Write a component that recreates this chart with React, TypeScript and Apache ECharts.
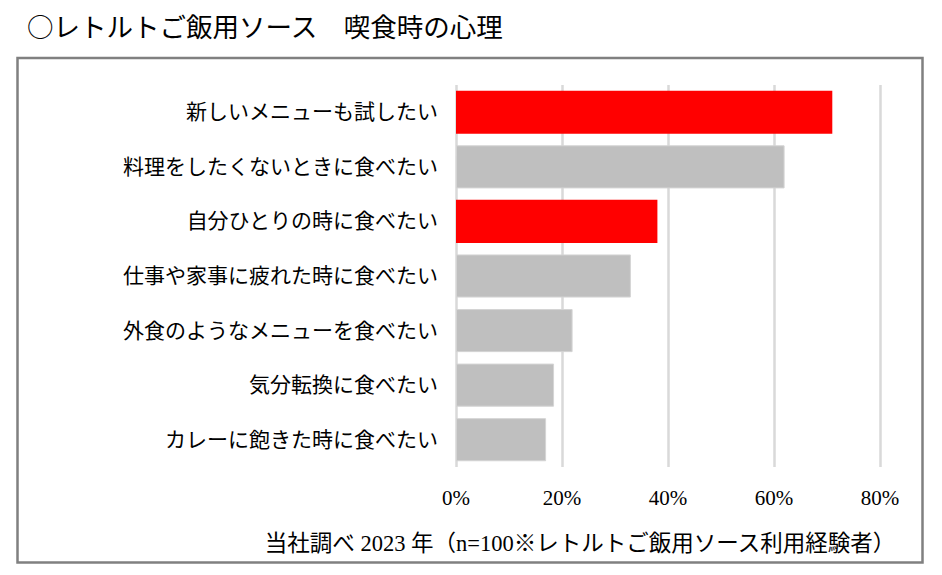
import React, { useEffect, useRef } from "react";
import * as echarts from "echarts";

const titleText = "○レトルトご飯用ソース　喫食時の心理";
const footerText = "当社調べ 2023 年（n=100※レトルトご飯用ソース利用経験者）";
const categories = [
  "新しいメニューも試したい",
  "料理をしたくないときに食べたい",
  "自分ひとりの時に食べたい",
  "仕事や家事に疲れた時に食べたい",
  "外食のようなメニューを食べたい",
  "気分転換に食べたい",
  "カレーに飽きた時に食べたい",
];
const values = [71, 62, 38, 33, 22, 18.5, 17];
const highlighted = [true, false, true, false, false, false, false];
const xTicks = [0, 20, 40, 60, 80];

const FONT = "'Liberation Serif', 'Noto Sans CJK JP', serif";
const CJK_FONT = "'Noto Sans CJK JP', 'Liberation Serif', serif";

export default function App() {
  const ref = useRef<HTMLDivElement>(null);
  useEffect(() => {
    document.body.style.margin = "0";
    const chart = echarts.init(ref.current!, null, { renderer: "svg" });
    chart.setOption({
      animation: false,
      textStyle: { fontFamily: FONT },
      grid: { left: 456, right: 62, top: 85, bottom: 108, containLabel: false },
      xAxis: {
        type: "value",
        min: xTicks[0],
        max: xTicks[xTicks.length - 1],
        interval: 20,
        axisLine: { show: false },
        axisTick: { show: false },
        splitLine: { show: true, lineStyle: { color: "#d9d9d9", width: 2.5 } },
        axisLabel: {
          margin: 20,
          fontSize: 21,
          color: "#000",
          fontFamily: FONT,
          formatter: (v: number) => `${v}%`,
        },
      },
      yAxis: {
        type: "category",
        data: categories,
        inverse: true,
        axisLine: { show: false },
        axisTick: { show: false },
        axisLabel: { margin: 18, fontSize: 21, color: "#000", fontFamily: FONT },
      },
      series: [
        {
          type: "bar",
          barCategoryGap: "21%",
          data: values.map((v, i) => ({
            value: v,
            itemStyle: highlighted[i]
              ? { color: "#ff0000" }
              : { color: "#bfbfbf", borderColor: "#d4d4d4", borderWidth: 1 },
          })),
        },
      ],
      graphic: [
        {
          type: "rect",
          shape: { x: 17.5, y: 58, width: 905, height: 504.5 },
          style: { fill: "none", stroke: "#808080", lineWidth: 2.5 },
          silent: true,
        },
        {
          type: "text",
          x: 27,
          y: 25,
          style: {
            text: titleText,
            fontSize: 26.5,
            fontFamily: CJK_FONT,
            fill: "#000",
            textAlign: "left",
            textVerticalAlign: "middle",
          },
        },
        {
          type: "text",
          x: 580,
          y: 543,
          style: {
            text: footerText,
            fontSize: 22.5,
            fontFamily: FONT,
            fill: "#000",
            textAlign: "center",
            textVerticalAlign: "middle",
          },
        },
      ],
    });
    return () => chart.dispose();
  }, []);
  return <div ref={ref} style={{ width: 942, height: 575 }} />;
}
